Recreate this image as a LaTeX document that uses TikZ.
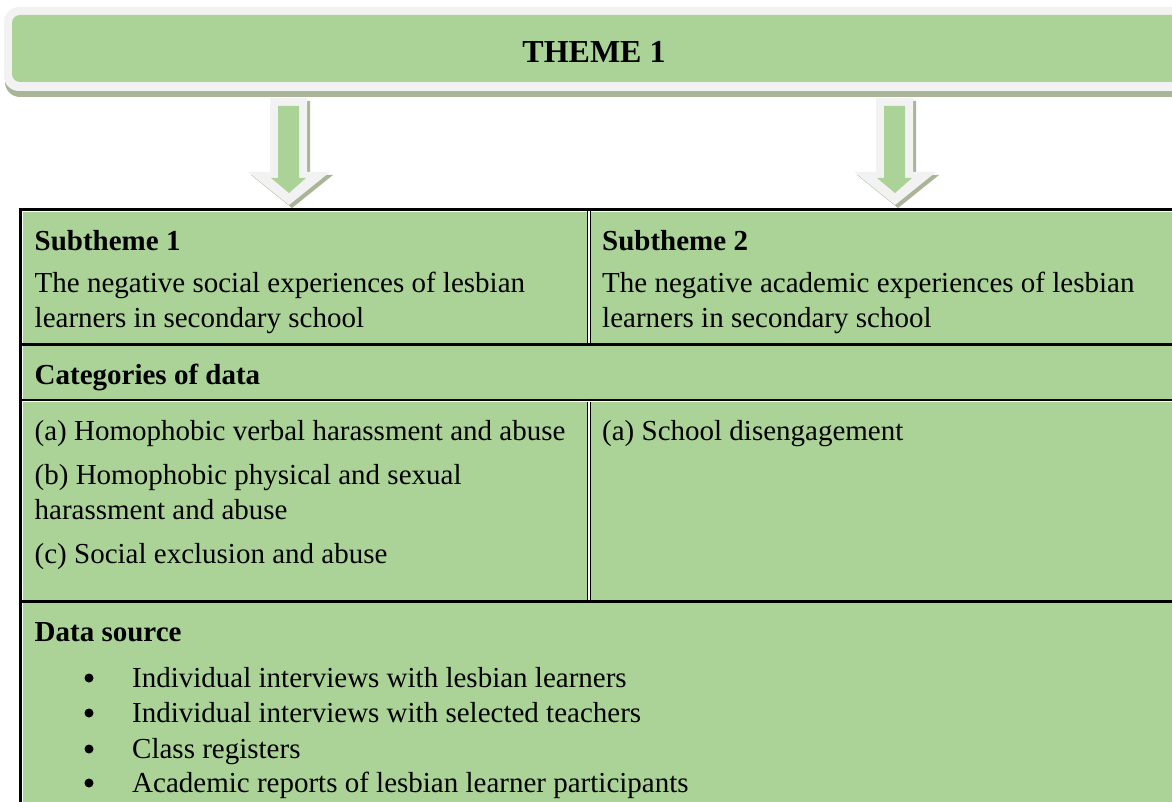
\documentclass[tikz,border=0pt]{standalone}
\usepackage{fontspec}
\setmainfont{Liberation Serif}
\usetikzlibrary{positioning}
\definecolor{green1}{RGB}{171,211,151}
\definecolor{grey1}{RGB}{242,242,242}
\definecolor{shade1}{RGB}{170,181,152}

\begin{document}
\begin{tikzpicture}[x=1pt, y=-1pt,
    every node/.style={inner sep=0pt, anchor=base west, font=\fontsize{29}{35}\selectfont},
    headtext/.style={font=\fontsize{29}{35}\selectfont\bfseries},
    dotmark/.style={circle, fill=black, minimum size=9pt, anchor=center},
    thickrule/.style={line width=2.8pt, black},
    whiterule/.style={line width=1.2pt, white}
]
\useasboundingbox (0,0) rectangle (1172,802);

% Theme banner with shadow
\fill[shade1, rounded corners=15pt] (5,14) rectangle (1200,97);
\fill[grey1, rounded corners=15pt] (4,7) rectangle (1200,91);
\fill[green1, rounded corners=8pt] (12,15) rectangle (1200,82);
\node[anchor=base, font=\fontsize{32}{38}\selectfont\bfseries] (theme) at (594,63) {THEME 1};

% Block arrows down to the subthemes
\foreach \c in {289,895} {
    \fill[shade1] ({\c-16},101) -- ({\c+21},101) -- ({\c+21},175) -- ({\c+44},175)
        -- ({\c+3},208) -- ({\c-38},175) -- ({\c-16},175) -- cycle;
    \fill[grey1] ({\c-19},98) -- ({\c+18},98) -- ({\c+18},172) -- ({\c+41},172)
        -- (\c,205) -- ({\c-41},172) -- ({\c-19},172) -- cycle;
    \fill[green1] ({\c-11},106) -- ({\c+10},106) -- ({\c+10},178) -- ({\c+17},178)
        -- (\c,193) -- ({\c-18},178) -- ({\c-11},178) -- cycle;
}

% Table body
\fill[green1] (20,209) rectangle (1190,810);
\draw[whiterule] (22.3,211) -- (22.3,810);
\draw[whiterule] (22,211.2) -- (1190,211.2);
\draw[thickrule] (20.3,208) -- (20.3,810);
\draw[thickrule] (19,209.3) -- (1190,209.3);

% Column divider (double line)
\foreach \ya/\yb in {211/344, 401/601} {
    \draw[line width=4.2pt, black] (588.6,\ya) -- (588.6,\yb);
    \draw[line width=1.8pt, white] (588.6,\ya) -- (588.6,\yb);
}

% Row lines
\draw[thickrule] (20,344.5) -- (1190,344.5);
\draw[line width=2pt, black] (20,399.7) -- (1190,399.7);
\draw[whiterule] (22,401.3) -- (1190,401.3);
\draw[thickrule] (20,601.3) -- (1190,601.3);

% Subthemes
\node[headtext] (sub1) at (34.5,251) {Subtheme 1};
\node (sub1a) at (34.5,292) {The negative social experiences of lesbian};
\node (sub1b) at (34.5,327) {learners in secondary school};
\node[headtext] (sub2) at (602,251) {Subtheme 2};
\node (sub2a) at (602,292) {The negative academic experiences of lesbian};
\node (sub2b) at (602,327) {learners in secondary school};

% Categories
\node[headtext] (cat) at (34.5,384) {Categories of data};
\node (catA) at (34.5,440) {(a) Homophobic verbal harassment and abuse};
\node (catB) at (34.5,484) {(b) Homophobic physical and sexual};
\node (catBb) at (34.5,519) {harassment and abuse};
\node (catC) at (34.5,563) {(c) Social exclusion and abuse};
\node (catD) at (602,440) {(a) School disengagement};

% Data sources
\node[headtext] (src) at (34.5,641) {Data source};
\foreach \y/\t [count=\i] in {687/Individual interviews with lesbian learners,
    722/Individual interviews with selected teachers,
    758/Class registers,
    792/Academic reports of lesbian learner participants} {
    \node[dotmark] (dot\i) at (89,{\y-9}) {};
    \node (src\i) at (132,\y) {\t};
}
\end{tikzpicture}
\end{document}
